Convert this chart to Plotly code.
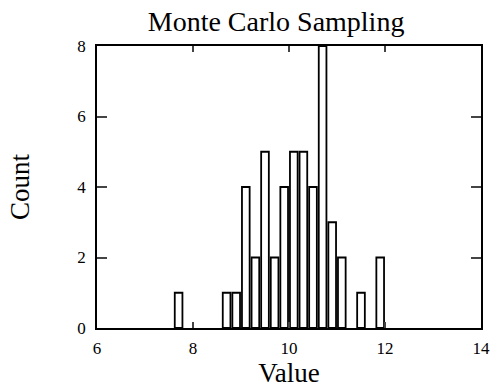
import plotly.graph_objects as go

bin_centers = [7.7, 8.7, 8.9, 9.1, 9.3, 9.5, 9.7, 9.9, 10.1, 10.3, 10.5, 10.7, 10.9, 11.1, 11.5, 11.9]
counts = [1, 1, 1, 4, 2, 5, 2, 4, 5, 5, 4, 8, 3, 2, 1, 2]
x_ticks = [6, 8, 10, 12, 14]
y_ticks = [0, 2, 4, 6, 8]

serif = "Liberation Serif, Times New Roman, serif"

fig = go.Figure()
fig.add_trace(go.Bar(
    x=bin_centers, y=counts, width=0.16,
    marker=dict(color="white", line=dict(color="black", width=1.8)),
    showlegend=False,
))

fig.update_layout(
    width=493, height=389,
    margin=dict(l=97, r=12, t=46, b=61, autoexpand=False),
    paper_bgcolor="white", plot_bgcolor="white",
    title=dict(text="Monte Carlo Sampling", x=0.56, xanchor="center", y=0.945, yanchor="middle",
               font=dict(family=serif, size=28, color="black")),
    font=dict(family=serif, color="black"),
)
fig.update_xaxes(
    range=[6, 14], tickvals=x_ticks, ticks="inside", ticklen=6, tickwidth=1.5,
    showline=True, linecolor="black", linewidth=1.5, mirror="ticks", showgrid=False, zeroline=False,
    automargin=False,
    tickfont=dict(family=serif, size=17, color="black"), ticklabelstandoff=4,
    title=dict(text="Value", font=dict(family=serif, size=27, color="black"), standoff=2),
)
fig.update_yaxes(
    range=[0, 8], tickvals=y_ticks, ticks="inside", ticklen=10, tickwidth=1.5,
    showline=True, linecolor="black", linewidth=1.5, mirror="ticks", showgrid=False, zeroline=False,
    automargin=False,
    tickfont=dict(family=serif, size=17, color="black"), ticklabelstandoff=6,
    title=dict(text="Count", font=dict(family=serif, size=27, color="black"), standoff=40),
)

fig.write_html("out.html")
